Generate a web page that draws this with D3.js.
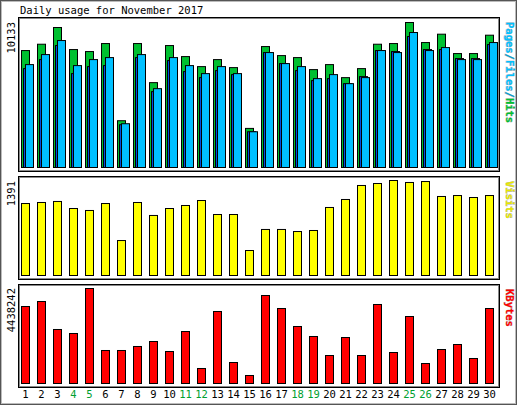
<!DOCTYPE html>
<html>
<head>
<meta charset="utf-8">
<script src="https://cdn.jsdelivr.net/npm/d3@7"></script>
<style>
  body { margin: 0; background: #fff; }
  text { font-family: "DejaVu Sans Mono", monospace; }
</style>
</head>
<body>
<svg id="chart" width="517" height="405"></svg>
<script>
const days = d3.range(1, 31)
const weekend = [4, 5, 11, 12, 18, 19, 25, 26]

const hits = [8172, 8615, 9783, 8242, 8102, 8662, 3269, 8662, 5930, 8522, 7751, 7051, 7541, 6981, 2732,
  8452, 7821, 7681, 6841, 7191, 6280, 6911, 8615, 8662, 10133, 8732, 9316, 7962, 7962, 9246]
const files = [7191, 7891, 8872, 7121, 7541, 7681, 3059, 7891, 5510, 7681, 7121, 6561, 7051, 6561, 2498,
  8032, 7261, 7051, 6211, 6491, 5860, 6281, 8172, 8032, 9433, 8172, 8382, 7541, 7541, 8732]
const pages = [6911, 7541, 8522, 6561, 7051, 7121, 2989, 7681, 5300, 7472, 6701, 6281, 6771, 6491, 2498,
  8032, 7261, 6771, 6071, 6211, 5860, 6351, 8172, 8102, 9153, 8242, 8242, 7612, 7612, 8592]
const visits = [1054, 1069, 1084, 981, 952, 1054, 512, 1069, 879, 981, 1025, 1098, 893, 893, 366,
  674, 674, 644, 659, 996, 1113, 1318, 1347, 1391, 1362, 1376, 1157, 1171, 1142, 1171]
const kbytes = [3597000, 3831000, 2523000, 2336000, 4438242, 1542000, 1542000, 1729000, 1962000, 1495000,
  2429000, 701000, 3364000, 981000, 374000, 4111000, 3504000, 2663000, 2196000, 1308000,
  2149000, 1308000, 3691000, 1448000, 3130000, 934000, 1588000, 1822000, 1168000, 3504000]

const svg = d3.select('#chart')

// outer frame
svg.append('rect').attr('x', 0.5).attr('y', 0.5).attr('width', 516).attr('height', 404)
  .attr('fill', '#fff').attr('stroke', '#555')
svg.append('rect').attr('x', 1.5).attr('y', 1.5).attr('width', 514).attr('height', 402)
  .attr('fill', 'none').attr('stroke', '#bbb')

svg.append('text').attr('x', 20).attr('y', 14).attr('font-size', 10.5)
  .text('Daily usage for November 2017')

const x = d3.scaleBand().domain(days).range([15, 495]).paddingInner(0)
const barX = d => x(d) + 6

const panel = (top, bottom) => {
  svg.append('rect').attr('x', 18.5).attr('y', top + 0.5).attr('width', 481).attr('height', bottom - top)
    .attr('fill', '#fff').attr('stroke', '#000')
  svg.append('rect').attr('x', 19.5).attr('y', top + 1.5).attr('width', 479).attr('height', bottom - top - 2)
    .attr('fill', 'none').attr('stroke', '#888')
}

const drawBars = (data, y, offset, width, color) => {
  svg.append('g').selectAll('rect')
    .data(data)
    .join('rect')
    .attr('x', (d, i) => barX(days[i]) + offset + 0.5)
    .attr('y', d => y(d) + 0.5)
    .attr('width', width)
    .attr('height', d => y(0) - y(d))
    .attr('fill', color)
    .attr('stroke', '#000')
}

const leftLabel = (txt, y) => {
  svg.append('text').attr('transform', `translate(15,${y}) rotate(-90)`)
    .attr('text-anchor', 'end').attr('font-size', 10.5).text(txt)
}

const rightLabel = (parts, y) => {
  const t = svg.append('text').attr('transform', `translate(506,${y}) rotate(90)`)
    .attr('font-size', 10.5).attr('font-weight', 'bold')
    .style('paint-order', 'stroke').attr('stroke', '#aaa').attr('stroke-width', 0.6)
  parts.forEach(p => t.append('tspan').attr('fill', p[1]).text(p[0]))
}

// hits / files / pages
panel(17, 171)
const y1 = d3.scaleLinear().domain([0, 10133]).range([167, 22])
drawBars(hits, y1, 0, 8, '#00c030')
drawBars(pages, y1, 2, 8, '#0050e0')
drawBars(files, y1, 4, 8, '#00c0ff')
leftLabel('10133', 22)
rightLabel([['Pages', '#00c0ff'], ['/', '#00a0d0'], ['Files', '#00c0ff'], ['/', '#00a0d0'], ['Hits', '#00c030']], 22)

// visits
panel(176, 279)
const y2 = d3.scaleLinear().domain([0, 1391]).range([275, 180])
drawBars(visits, y2, 0, 8, '#ffff00')
leftLabel('1391', 181)
rightLabel([['Visits', '#e8e800']], 181)

// kbytes
panel(284, 387)
const y3 = d3.scaleLinear().domain([0, 4438242]).range([383, 288])
drawBars(kbytes, y3, 0, 8, '#ff0000')
leftLabel('4438242', 288)
rightLabel([['KBytes', '#ff0000']], 289)

// day labels
svg.append('g').selectAll('text')
  .data(days)
  .join('text')
  .attr('x', d => barX(d) + 4.5)
  .attr('y', 398)
  .attr('text-anchor', 'middle')
  .attr('font-size', 10.5)
  .attr('fill', d => weekend.includes(d) ? '#00a030' : '#000')
  .text(d => d)
</script>
</body>
</html>
